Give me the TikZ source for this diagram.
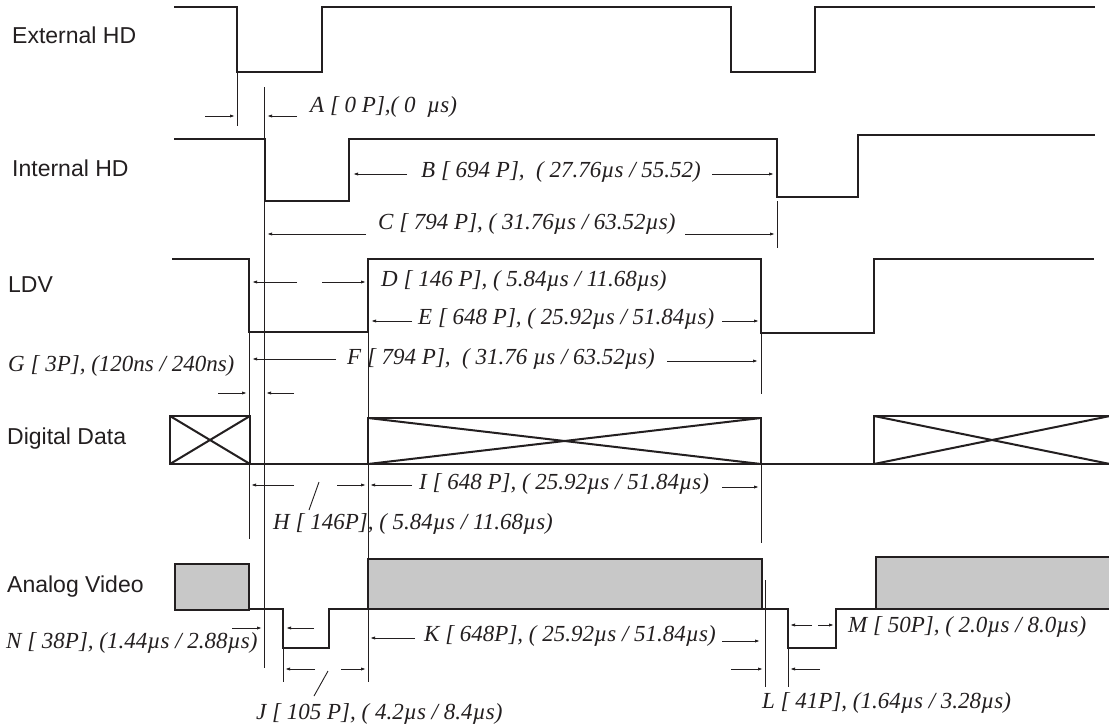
\documentclass[tikz,border=0pt]{standalone}
\usepackage{fontspec}
\setmainfont{Liberation Serif}
\newfontfamily\arialfont{Liberation Sans}
\usetikzlibrary{arrows.meta}
\definecolor{sig}{RGB}{35,31,32}
\definecolor{boxgray}{RGB}{200,200,200}
\tikzset{
  sig/.style={line width=2.6pt, draw=sig, line join=miter},
  thinline/.style={line width=0.9pt, draw=sig},
  dimarrow/.style={line width=0.9pt, draw=sig, -{Latex[length=5pt,width=3.2pt]}},
  signame/.style={anchor=west, inner sep=0pt, text=sig, font=\arialfont\fontsize{23}{26}\selectfont},
  dimlabel/.style={anchor=west, inner sep=0pt, text=sig, font=\fontsize{23}{26}\selectfont\itshape},
  xbox/.style={line width=2.6pt, draw=sig},
  xdiag/.style={line width=2pt, draw=sig},
  gbox/.style={line width=2.6pt, draw=sig, fill=boxgray}
}
\begin{document}
\begin{tikzpicture}[x=1pt,y=-1pt]
\useasboundingbox (0,0) rectangle (1109,728);
\clip (0,0) rectangle (1109,728);
\fill[white] (0,0) rectangle (1109,728);

% signal names
\node[signame] (extname) at (12,35) {External HD};
\node[signame] (intname) at (12,168) {Internal HD};
\node[signame] (ldvname) at (8,285) {LDV};
\node[signame] (digname) at (7,439) {Digital Data};
\node[signame] (ananame) at (7,587) {Analog Video};

% External HD
\draw[sig] (174,7)--(237,7)--(237,72)--(322,72)--(322,7)--(731,7)--(731,72)--(815,72)--(815,7)--(1095,7);
% Internal HD
\draw[sig] (174,139)--(265,139)--(265,201)--(349,201)--(349,139)--(777,139)--(777,197)--(858,197)--(858,135)--(1095,135);
% LDV
\draw[sig] (172,259)--(249,259)--(249,332)--(368,332)--(368,259)--(761,259)--(761,333)--(874,333)--(874,259)--(1094,259);

% Digital data
\draw[xdiag] (170,416)--(250,464) (170,464)--(250,416);
\draw[xbox] (170,416) rectangle (250,464);
\draw[line width=1.4pt, draw=sig] (250,464)--(368,464);
\draw[xdiag] (368,418)--(761,464) (368,464)--(761,418);
\draw[xbox] (368,418) rectangle (761,464);
\draw[line width=1.4pt, draw=sig] (761,464)--(874,464);
\draw[xdiag] (874,416)--(1110,464) (874,464)--(1110,416);
\draw[xbox] (1115,416)--(874,416)--(874,464)--(1115,464);

% Analog video
\draw[gbox] (175,564) rectangle (249,610);
\draw[sig] (249,609)--(283,609)--(283,648)--(329,648)--(329,609)--(368,609);
\draw[gbox] (368,559) rectangle (762,609);
\draw[sig] (762,609)--(788,609)--(788,648)--(836,648)--(836,609)--(876,609);
\draw[gbox] (1115,557)--(876,557)--(876,609)--(1115,609);

% extension lines
\draw[thinline] (237,72)--(237,126);
\draw[thinline] (264,87)--(264,668);
\draw[thinline] (777,201)--(777,248);
\draw[thinline] (249,332)--(249,539);
\draw[thinline] (368,332)--(368,682);
\draw[thinline] (761,333)--(761,394);
\draw[thinline] (761,464)--(761,543);
\draw[thinline] (283,648)--(283,682);
\draw[thinline] (765,580)--(765,687);
\draw[thinline] (788,648)--(788,687);

% dimension arrows
\coordinate (a1) at (205,116); \coordinate (a1e) at (235,116);
\coordinate (a2) at (297,116); \coordinate (a2e) at (267,116);
\draw[dimarrow] (a1)--(a1e);
\draw[dimarrow] (a2)--(a2e);
\node[dimlabel] (labA) at (310,107) {A [ 0 P],( 0\ \ µs)};

\draw[dimarrow] (407,174)--(353,174);
\draw[dimarrow] (712,174)--(774,174);
\node[dimlabel] (labB) at (421,172) {B [ 694 P],\ \ ( 27.76µs / 55.52)};

\draw[dimarrow] (366,234)--(267,234);
\draw[dimarrow] (685,234)--(775,234);
\node[dimlabel] (labC) at (378,224) {C [ 794 P], ( 31.76µs / 63.52µs)};

\draw[dimarrow] (297,282)--(252,282);
\draw[dimarrow] (322,282)--(366,282);
\node[dimlabel] (labD) at (381,281) {D [ 146 P], ( 5.84µs / 11.68µs)};

\draw[dimarrow] (412,321)--(371,321);
\draw[dimarrow] (722,321)--(759,321);
\node[dimlabel] (labE) at (418,319) {E [ 648 P], ( 25.92µs / 51.84µs)};

\draw[dimarrow] (336,359)--(252,359);
\draw[dimarrow] (667,361)--(758,361);
\node[dimlabel] (labF) at (347,359) {F [ 794 P],\ \ ( 31.76 µs / 63.52µs)};

\draw[dimarrow] (218,393)--(247,393);
\draw[dimarrow] (294,393)--(266,393);
\node[dimlabel] (labG) at (8,366) {G [ 3P], (120ns / 240ns)};

\draw[dimarrow] (294,485)--(251,485);
\draw[dimarrow] (337,485)--(366,485);
\draw[thinline] (309,510)--(319,482);
\node[dimlabel] (labH) at (273,524) {H [ 146P], ( 5.84µs / 11.68µs)};

\draw[dimarrow] (412,485)--(370,485);
\draw[dimarrow] (722,487)--(759,487);
\node[dimlabel] (labI) at (419,484) {I [ 648 P], ( 25.92µs / 51.84µs)};

\draw[dimarrow] (232,628)--(262,628);
\draw[dimarrow] (314,628)--(286,628);
\node[dimlabel] (labN) at (6,643) {N [ 38P], (1.44µs / 2.88µs)};

\draw[dimarrow] (315,669)--(285,669);
\draw[dimarrow] (341,669)--(366,669);
\draw[thinline] (314,696)--(328,671);
\node[dimlabel] (labJ) at (256,714) {J [ 105 P], ( 4.2µs / 8.4µs)};

\draw[dimarrow] (415,638)--(370,638);
\draw[dimarrow] (722,641)--(760,641);
\node[dimlabel] (labK) at (424,636) {K [ 648P], ( 25.92µs / 51.84µs)};

\draw[dimarrow] (812,625)--(790,625);
\draw[dimarrow] (818,625)--(834,625);
\node[dimlabel] (labM) at (848,627) {M [ 50P], ( 2.0µs / 8.0µs)};

\draw[dimarrow] (731,669)--(763,669);
\draw[dimarrow] (820,669)--(790,669);
\node[dimlabel] (labL) at (762,703) {L [ 41P], (1.64µs / 3.28µs)};
\end{tikzpicture}
\end{document}
